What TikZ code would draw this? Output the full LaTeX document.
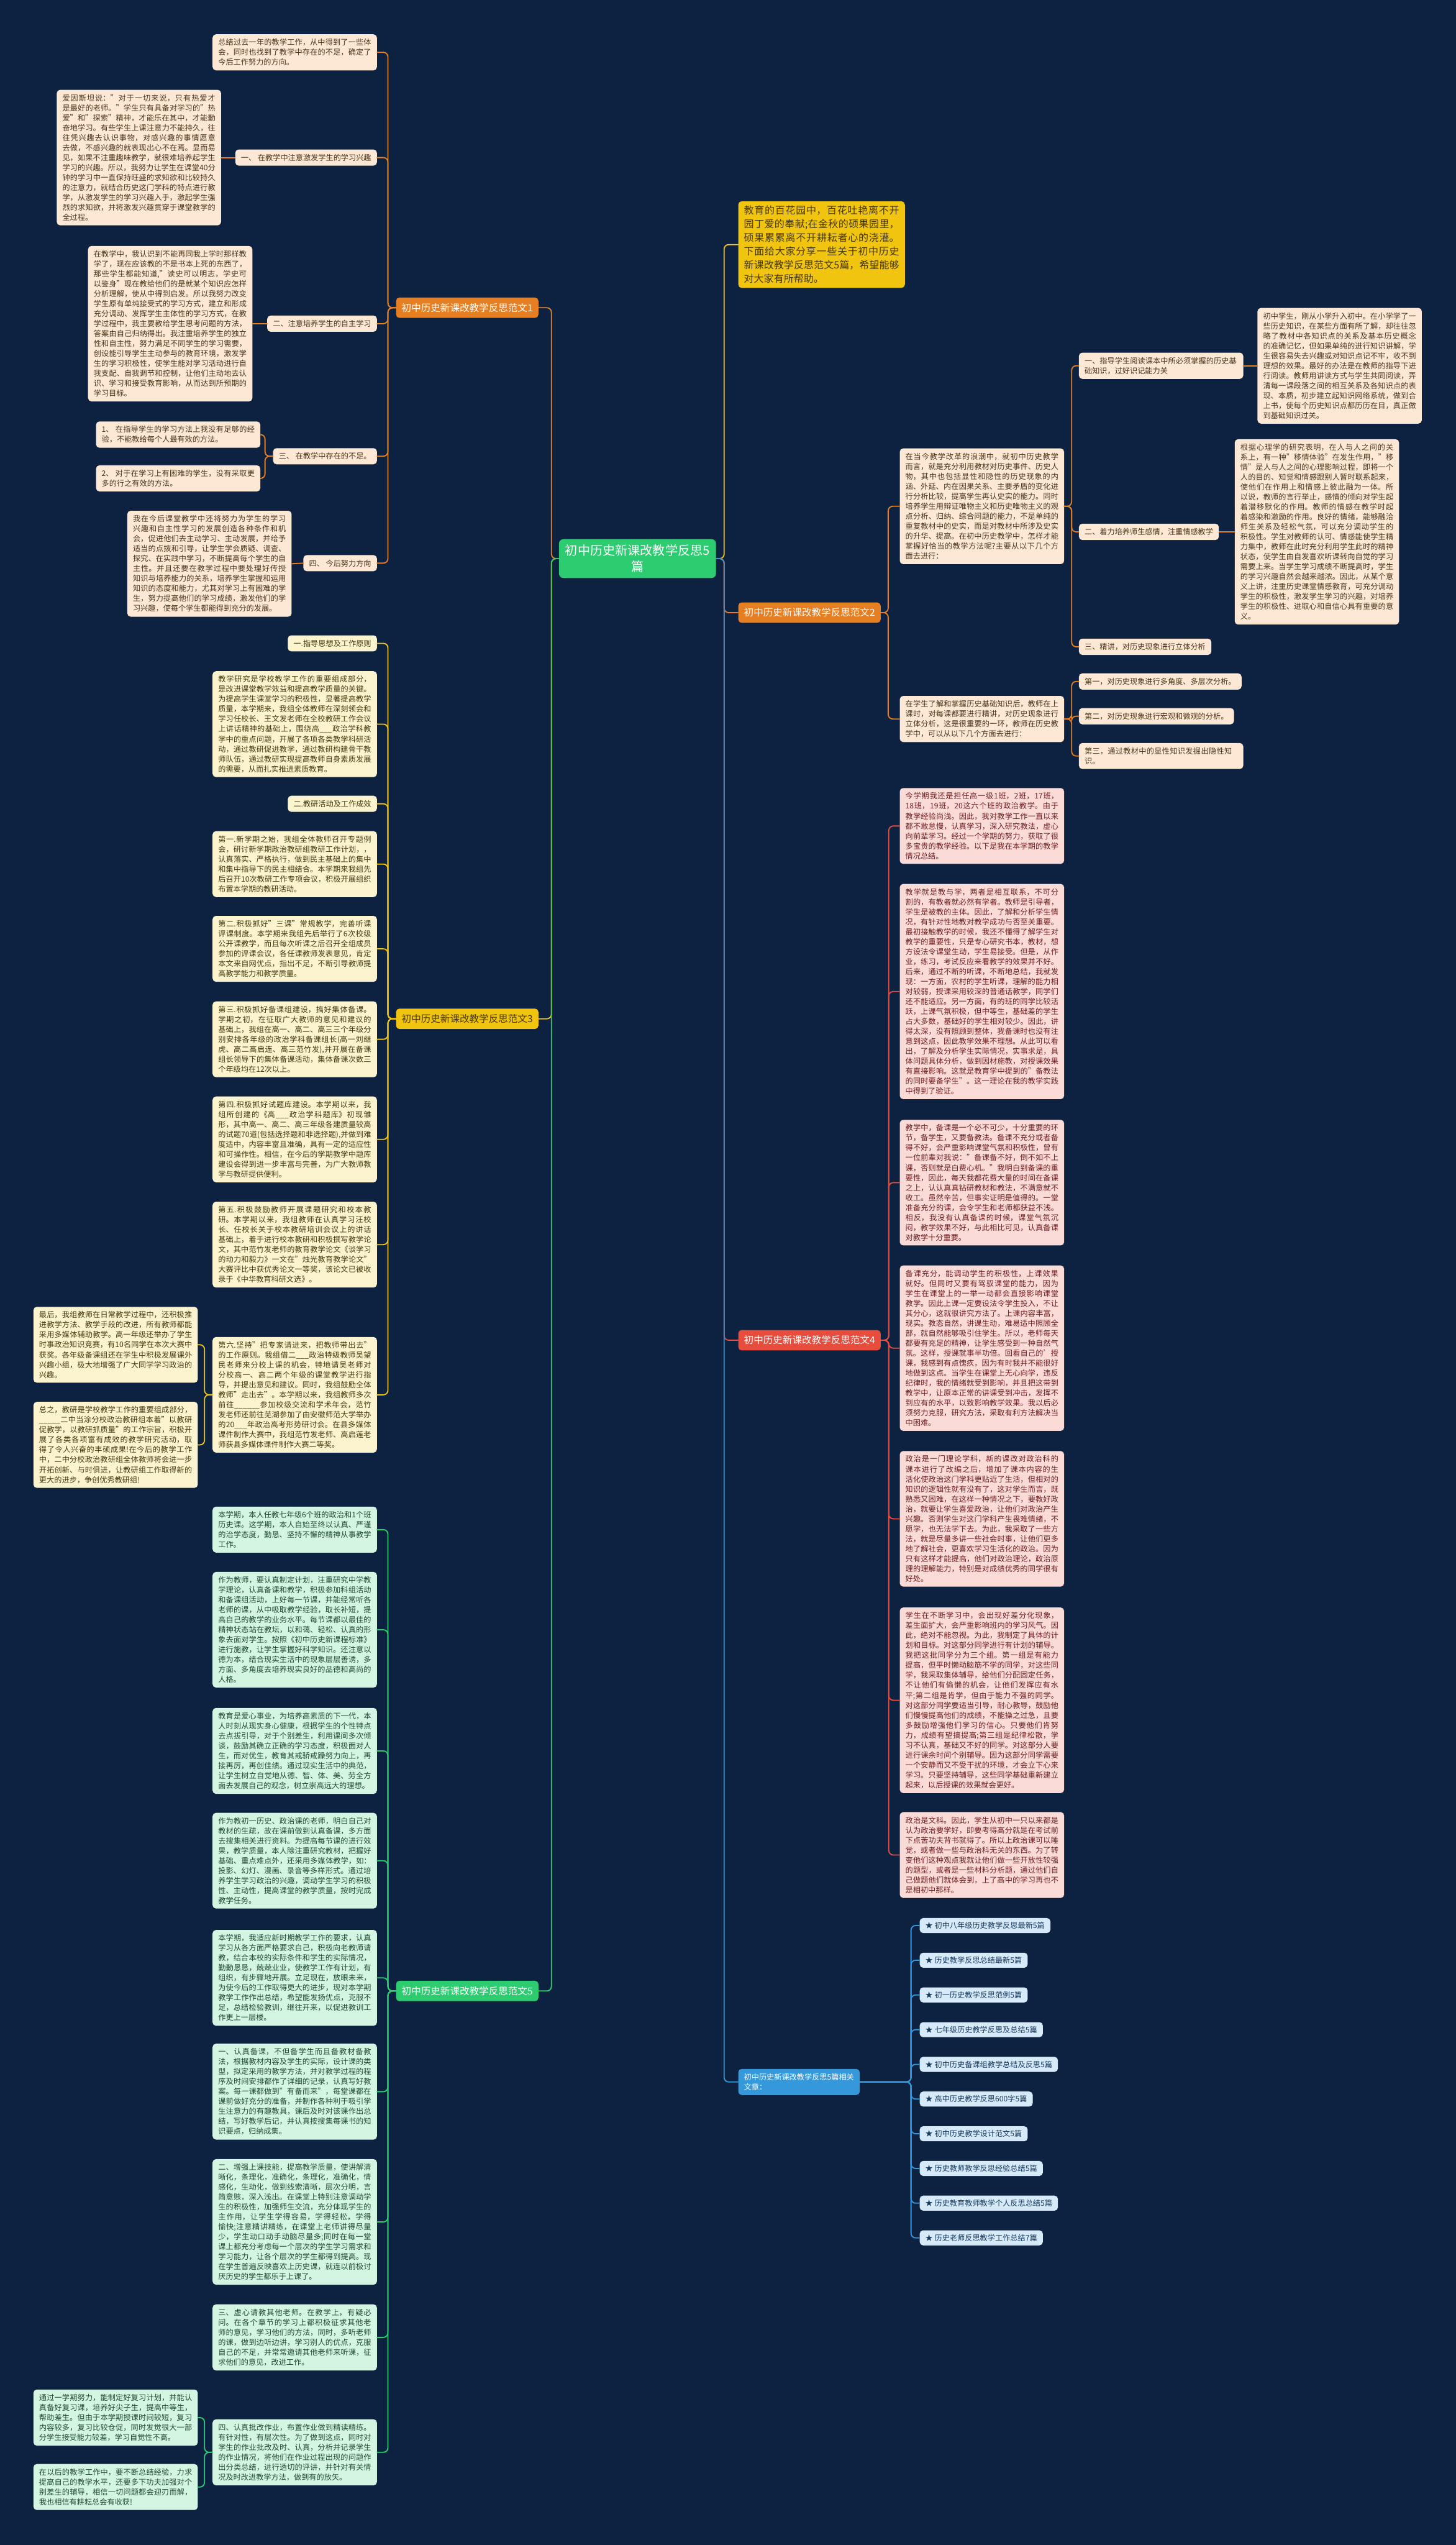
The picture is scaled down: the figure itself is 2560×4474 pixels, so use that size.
\documentclass[tikz,border=0pt]{standalone}
\usepackage{fontspec}
\setmainfont{Noto Sans CJK SC}
\XeTeXlinebreaklocale "zh"
\XeTeXlinebreakskip=0pt plus 1pt
\definecolor{bgnavy}{HTML}{0C2240}
\definecolor{orfill}{HTML}{E67E22}
\definecolor{orleafc}{HTML}{FCE8D5}
\definecolor{ortext}{HTML}{4D3319}
\definecolor{yefill}{HTML}{F1C40F}
\definecolor{yeleafc}{HTML}{FCF3CF}
\definecolor{yetext}{HTML}{45390C}
\definecolor{grfill}{HTML}{2ECC71}
\definecolor{grleafc}{HTML}{D5F5E3}
\definecolor{grtext}{HTML}{1E4A30}
\definecolor{refill}{HTML}{E74C3C}
\definecolor{releafc}{HTML}{FADBD8}
\definecolor{retext}{HTML}{6B1F1F}
\definecolor{blfill}{HTML}{3498DB}
\definecolor{blleafc}{HTML}{D6EAF8}
\definecolor{bltext}{HTML}{173A5E}
\newcommand\leaffont{\fontsize{13.3}{17.5}\selectfont}
\newcommand\mainfont{\fontsize{17}{21}\selectfont}
\newcommand\rootfont{\fontsize{22}{28}\selectfont}
\begin{document}
\begin{tikzpicture}[x={(1pt,0)}, y={(0,-1pt)}, line cap=round, line join=round,
  basebox/.style={rounded corners=6pt, inner xsep=10pt, inner ysep=8pt, font=\leaffont},
  leafbox/.style={basebox, text width=269pt, align=justify},
  tagbox/.style={basebox},
  mainbox/.style={rounded corners=6pt, inner xsep=10pt, inner ysep=10pt, font=\mainfont},
  rootbox/.style={rounded corners=8pt, inner xsep=11pt, inner ysep=10pt, font=\rootfont, align=center, fill=grfill, text=white},
  orleaf/.style={fill=orleafc, text=ortext},
  yeleaf/.style={fill=yeleafc, text=yetext},
  grleaf/.style={fill=grleafc, text=grtext},
  releaf/.style={fill=releafc, text=retext},
  blleaf/.style={fill=blleafc, text=bltext},
  wire/.style={line width=2pt, rounded corners=8pt},
  orwire/.style={wire, draw=orfill},
  yewire/.style={wire, draw=yefill},
  grwire/.style={wire, draw=grfill},
  rewire/.style={wire, draw=refill},
  blwire/.style={wire, draw=blfill}]

\fill[bgnavy] (0,0) rectangle (2560,4474);
\useasboundingbox (0,0) rectangle (2560,4474);

% centre
\node[rootbox] (root) at (1121,982) {初中历史新课改教学反思5\\篇};

% ---------------- 范文1
\node[mainbox, fill=orfill, text=white, anchor=east] (b1) at (947,541) {初中历史新课改教学反思范文1};
\node[leafbox, orleaf, anchor=east] (l0) at (663,92) {总结过去一年的教学工作，从中得到了一些体会，同时也找到了教学中存在的不足，确定了今后工作努力的方向。};
\node[tagbox, orleaf, anchor=east] (t1a) at (663,277) {一、 在教学中注意激发学生的学习兴趣};
\node[tagbox, orleaf, anchor=east] (t1b) at (663,569) {二、注意培养学生的自主学习};
\node[tagbox, orleaf, anchor=east] (t1c) at (663,802) {三、 在教学中存在的不足。};
\node[tagbox, orleaf, anchor=east] (t1d) at (663,990) {四、 今后努力方向};
\node[leafbox, orleaf, anchor=east] (l1a) at (389,277) {爱因斯坦说："对于一切来说，只有热爱才是最好的老师。"学生只有具备对学习的"热爱"和"探索"精神，才能乐在其中，才能勤奋地学习。有些学生上课注意力不能持久，往往凭兴趣去认识事物，对感兴趣的事情愿意去做，不感兴趣的就表现出心不在焉。显而易见，如果不注重趣味教学，就很难培养起学生学习的兴趣。所以，我努力让学生在课堂40分钟的学习中一直保持旺盛的求知欲和比较持久的注意力，就结合历史这门学科的特点进行教学，从激发学生的学习兴趣入手，激起学生强烈的求知欲，并将激发兴趣贯穿于课堂教学的全过程。};
\node[leafbox, orleaf, anchor=east] (l1b) at (444,569) {在教学中，我认识到不能再同我上学时那样教学了，现在应该教的不是书本上死的东西了，那些学生都能知道,"读史可以明志，学史可以鉴身"现在教给他们的是就某个知识应怎样分析理解，使从中得到启发。所以我努力改变学生原有单纯接受式的学习方式，建立和形成充分调动、发挥学生主体性的学习方式，在教学过程中，我主要教给学生思考问题的方法，答案由自己归纳得出。我注重培养学生的独立性和自主性，努力满足不同学生的学习需要，创设能引导学生主动参与的教育环境，激发学生的学习积极性，使学生能对学习活动进行自我支配、自我调节和控制，让他们主动地去认识、学习和接受教育影响，从而达到所预期的学习目标。};
\node[leafbox, orleaf, anchor=east] (l1c1) at (458,764) {1、 在指导学生的学习方法上我没有足够的经验，不能教给每个人最有效的方法。};
\node[leafbox, orleaf, anchor=east] (l1c2) at (458,841) {2、 对于在学习上有困难的学生，没有采取更多的行之有效的方法。};
\node[leafbox, orleaf, anchor=east] (l1d) at (513,991) {我在今后课堂教学中还将努力为学生的学习兴趣和自主性学习的发展创造各种条件和机会，促进他们去主动学习、主动发展，并给予适当的点拨和引导，让学生学会质疑、调查、探究、在实践中学习，不断提高每个学生的自主性。并且还要在教学过程中要处理好传授知识与培养能力的关系，培养学生掌握和运用知识的态度和能力，尤其对学习上有困难的学生，努力提高他们的学习成绩，激发他们的学习兴趣，使每个学生都能得到充分的发展。};

% ---------------- 范文3
\node[mainbox, fill=yefill, text=yetext, anchor=east] (b3) at (947,1791) {初中历史新课改教学反思范文3};
\node[tagbox, yeleaf, anchor=east] (t3a) at (663,1131) {一.指导思想及工作原则};
\node[leafbox, yeleaf, anchor=east] (l3a) at (663,1273) {教学研究是学校教学工作的重要组成部分，是改进课堂教学效益和提高教学质量的关键。为提高学生课堂学习的积极性，显著提高教学质量，本学期来，我组全体教师在深刻领会和学习任校长、王文发老师在全校教研工作会议上讲话精神的基础上，围绕高\_\_\_政治学科教学中的重点问题，开展了各项各类教学科研活动，通过教研促进教学，通过教研构建骨干教师队伍，通过教研实现提高教师自身素质发展的需要，从而扎实推进素质教育。};
\node[tagbox, yeleaf, anchor=east] (t3b) at (663,1413) {二.教研活动及工作成效};
\node[leafbox, yeleaf, anchor=east] (l3c) at (663,1519) {第一.新学期之始，我组全体教师召开专题例会，研讨新学期政治教研组教研工作计划，，认真落实、严格执行，做到民主基础上的集中和集中指导下的民主相结合。本学期来我组先后召开10次教研工作专项会议，积极开展组织布置本学期的教研活动。};
\node[leafbox, yeleaf, anchor=east] (l3d) at (663,1668) {第二.积极抓好"三课"常规教学，完善听课评课制度。本学期来我组先后举行了6次校级公开课教学，而且每次听课之后召开全组成员参加的评课会议，各任课教师发表意见，肯定本文来自网优点，指出不足，不断引导教师提高教学能力和教学质量。};
\node[leafbox, yeleaf, anchor=east] (l3e) at (663,1827) {第三.积极抓好备课组建设，搞好集体备课。学期之初，在征取广大教师的意见和建议的基础上，我组在高一、高二、高三三个年级分别安排各年级的政治学科备课组长(高一刘继虎、高二高启连、高三范竹发),并开展在备课组长领导下的集体备课活动，集体备课次数三个年级均在12次以上。};
\node[leafbox, yeleaf, anchor=east] (l3f) at (663,2003) {第四.积极抓好试题库建设。本学期以来，我组所创建的《高\_\_\_政治学科题库》初现雏形，其中高一、高二、高三年级各建质量较高的试题70道(包括选择题和非选择题),并做到难度适中，内容丰富且准确，具有一定的适应性和可操作性。相信，在今后的学期教学中题库建设会得到进一步丰富与完善，为广大教师教学与教研提供便利。};
\node[leafbox, yeleaf, anchor=east] (l3g) at (663,2188) {第五.积极鼓励教师开展课题研究和校本教研。本学期以来，我组教师在认真学习汪校长、任校长关于校本教研培训会议上的讲话基础上，着手进行校本教研和积极撰写教学论文，其中范竹发老师的教育教学论文《谈学习的动力和毅力》一文在"烛光教育教学论文"大赛评比中获优秀论文一等奖，该论文已被收录于《中华教育科研文选》。};
\node[leafbox, yeleaf, anchor=east] (l3h) at (663,2452) {第六.坚持"把专家请进来，把教师带出去"的工作原则。我组借二\_\_\_政治特级教师吴望民老师来分校上课的机会，特地请吴老师对分校高一、高二两个年级的课堂教学进行指导，并提出意见和建议。同时，我组鼓励全体教师"走出去"。本学期以来，我组教师多次前往\_\_\_\_\_\_参加校级交流和学术年会，范竹发老师还前往芜湖参加了由安徽师范大学举办的20\_\_\_年政治高考形势研讨会。在县多媒体课件制作大赛中，我组范竹发老师、高启莲老师获县多媒体课件制作大赛二等奖。};
\node[leafbox, yeleaf, anchor=east] (l3i) at (348,2364) {最后，我组教师在日常教学过程中，还积极推进教学方法、教学手段的改进，所有教师都能采用多媒体辅助教学。高一年级还举办了学生时事政治知识竞赛，有10名同学在本次大赛中获奖。各年级备课组还在学生中积极发展课外兴趣小组，极大地增强了广大同学学习政治的兴趣。};
\node[leafbox, yeleaf, anchor=east] (l3j) at (348,2540) {总之，教研是学校教学工作的重要组成部分，\_\_\_\_\_二中当涂分校政治教研组本着"以教研促教学，以教研抓质量"的工作宗旨，积极开展了各类各项富有成效的教学研究活动，取得了令人兴奋的丰硕成果!在今后的教学工作中，二中分校政治教研组全体教师将会进一步开拓创新、与时俱进，让教研组工作取得新的更大的进步，争创优秀教研组!};

% ---------------- 范文5
\node[mainbox, fill=grfill, text=white, anchor=east] (b5) at (947,3500) {初中历史新课改教学反思范文5};
\node[leafbox, grleaf, anchor=east] (l5a) at (663,2689) {本学期，本人任教七年级6个班的政治和1个班历史课。这学期，本人自始至终以认真、严谨的治学态度，勤恳、坚持不懈的精神从事教学工作。};
\node[leafbox, grleaf, anchor=east] (l5b) at (663,2865) {作为教师，要认真制定计划，注重研究中学教学理论，认真备课和教学，积极参加科组活动和备课组活动，上好每一节课，并能经常听各老师的课，从中吸取教学经验，取长补短，提高自己的教学的业务水平。每节课都以最佳的精神状态站在教坛，以和蔼、轻松、认真的形象去面对学生。按照《初中历史新课程标准》进行施教，让学生掌握好科学知识。还注意以德为本，结合现实生活中的现象层层善诱，多方面、多角度去培养现实良好的品德和高尚的人格。};
\node[leafbox, grleaf, anchor=east] (l5c) at (663,3078) {教育是爱心事业，为培养高素质的下一代，本人时刻从现实身心健康，根据学生的个性特点去点拔引导，对于个别差生，利用课间多次倾谈，鼓励其确立正确的学习态度，积极面对人生，而对优生，教育其戒骄戒躁努力向上，再接再厉，再创佳绩。通过现实生活中的典范，让学生树立自觉地从德、智、体、美、劳全方面去发展自己的观念，树立崇高远大的理想。};
\node[leafbox, grleaf, anchor=east] (l5d) at (663,3271) {作为教初一历史、政治课的老师，明白自己对教材的生疏，故在课前做到认真备课，多方面去搜集相关进行资料。为提高每节课的进行效果，教学质量，本人除注重研究教材，把握好基础、重点难点外，还采用多媒体教学，如：投影、幻灯、漫画、录音等多样形式。通过培养学生学习政治的兴趣，调动学生学习的积极性、主动性，提高课堂的教学质量，按时完成教学任务。};
\node[leafbox, grleaf, anchor=east] (l5e) at (663,3477) {本学期，我适应新时期教学工作的要求，认真学习从各方面严格要求自己，积极向老教师请教，结合本校的实际条件和学生的实际情况，勤勤恳恳，兢兢业业，使教学工作有计划，有组织，有步骤地开展。立足现在，放眼未来，为使今后的工作取得更大的进步，现对本学期教学工作作出总结，希望能发扬优点，克服不足，总结检验教训，继往开来，以促进教训工作更上一层楼。};
\node[leafbox, grleaf, anchor=east] (l5f) at (663,3677) {一、认真备课，不但备学生而且备教材备教法，根据教材内容及学生的实际，设计课的类型，拟定采用的教学方法，并对教学过程的程序及时间安排都作了详细的记录，认真写好教案。每一课都做到"有备而来"，每堂课都在课前做好充分的准备，并制作各种利于吸引学生注意力的有趣教具，课后及时对该课作出总结，写好教学后记，并认真按搜集每课书的知识要点，归纳成集。};
\node[leafbox, grleaf, anchor=east] (l5g) at (663,3906) {二、增强上课技能，提高教学质量，使讲解清晰化，条理化，准确化，条理化，准确化，情感化，生动化，做到线索清晰，层次分明，言简意赅，深入浅出。在课堂上特别注意调动学生的积极性，加强师生交流，充分体现学生的主作用，让学生学得容易，学得轻松，学得愉快;注意精讲精练，在课堂上老师讲得尽量少，学生动口动手动脑尽量多;同时在每一堂课上都充分考虑每一个层次的学生学习需求和学习能力，让各个层次的学生都得到提高。现在学生普遍反映喜欢上历史课，就连以前极讨厌历史的学生都乐于上课了。};
\node[leafbox, grleaf, anchor=east] (l5h) at (663,4109) {三、虚心请教其他老师。在教学上，有疑必问。在各个章节的学习上都积极征求其他老师的意见，学习他们的方法，同时，多听老师的课，做到边听边讲，学习别人的优点，克服自己的不足，并常常邀请其他老师来听课，征求他们的意见，改进工作。};
\node[leafbox, grleaf, anchor=east] (l5i) at (663,4311) {四、认真批改作业，布置作业做到精读精练。有针对性，有层次性。为了做到这点，同时对学生的作业批改及时、认真，分析并记录学生的作业情况，将他们在作业过程出现的问题作出分类总结，进行透切的评讲，并针对有关情况及时改进教学方法，做到有的放矢。};
\node[leafbox, grleaf, anchor=east] (l5j) at (348,4250) {通过一学期努力，能制定好复习计划，并能认真备好复习课，培养好尖子生，提高中等生，帮助差生。但由于本学期授课时间较短，复习内容较多，复习比较仓促，同时发觉很大一部分学生接受能力较差，学习自觉性不高。};
\node[leafbox, grleaf, anchor=east] (l5k) at (348,4372) {在以后的教学工作中，要不断总结经验，力求提高自己的教学水平，还要多下功夫加强对个别差生的辅导，相信一切问题都会迎刃而解，我也相信有耕耘总会有收获!};

% ---------------- intro
\node[basebox, font=\fontsize{17.5}{24}\selectfont, text width=273pt, align=justify, fill=yefill, text=yetext, anchor=west] (intro) at (1298,430) {教育的百花园中，百花吐艳离不开园丁爱的奉献;在金秋的硕果园里，硕果累累离不开耕耘者心的浇灌。下面给大家分享一些关于初中历史新课改教学反思范文5篇，希望能够对大家有所帮助。};

% ---------------- 范文2
\node[mainbox, fill=orfill, text=white, anchor=west] (b2) at (1298,1077) {初中历史新课改教学反思范文2};
\node[leafbox, orleaf, anchor=west] (l2a) at (1582,890) {在当今教学改革的浪潮中，就初中历史教学而言，就是充分利用教材对历史事件、历史人物，其中也包括显性和隐性的历史现象的内涵、外延、内在因果关系、主要矛盾的变化进行分析比较，提高学生再认史实的能力。同时培养学生用辩证唯物主义和历史唯物主义的观点分析、归纳、综合问题的能力，不是单纯的重复教材中的史实，而是对教材中所涉及史实的升华、提高。在初中历史教学中，怎样才能掌握好恰当的教学方法呢?主要从以下几个方面去进行：};
\node[leafbox, orleaf, anchor=west] (l2b) at (1582,1264) {在学生了解和掌握历史基础知识后，教师在上课时，对每课都要进行精讲，对历史现象进行立体分析，这是很重要的一环，教师在历史教学中，可以从以下几个方面去进行：};
\node[leafbox, orleaf, align=left, anchor=west] (t2a) at (1897,643) {一、指导学生阅读课本中所必须掌握的历史基础知识，过好识记能力关};
\node[tagbox, orleaf, anchor=west] (t2b) at (1897,935) {二、着力培养师生感情，注重情感教学};
\node[tagbox, orleaf, anchor=west] (t2c) at (1897,1137) {三、精讲，对历史现象进行立体分析};
\node[leafbox, orleaf, anchor=west] (l2a1) at (2211,643) {初中学生，刚从小学升入初中。在小学学了一些历史知识，在某些方面有所了解，却往往忽略了教材中各知识点的关系及基本历史概念的准确记忆，但如果单纯的进行知识讲解，学生很容易失去兴趣或对知识点记不牢，收不到理想的效果。最好的办法是在教师的指导下进行阅读。教师用讲读方式与学生共同阅读，弄清每一课段落之间的相互关系及各知识点的表现、本质，初步建立起知识网络系统，做到合上书，使每个历史知识点都历历在目，真正做到基础知识过关。};
\node[leafbox, orleaf, anchor=west] (l2b1) at (2171,935) {根据心理学的研究表明，在人与人之间的关系上，有一种"移情体验"在发生作用，"移情"是人与人之间的心理影响过程，即将一个人的目的、知觉和情感跟别人暂时联系起来，使他们在作用上和情感上彼此融为一体。所以说，教师的言行举止，感情的倾向对学生起着潜移默化的作用。教师的情感在教学时起着感染和激励的作用。良好的情绪，能够融洽师生关系及轻松气氛，可以充分调动学生的积极性。学生对教师的认可、情感能使学生精力集中，教师在此时充分利用学生此时的精神状态，使学生由自发喜欢听课转向自觉的学习需要上来。当学生学习成绩不断提高时，学生的学习兴趣自然会越来越浓。因此，从某个意义上讲，注重历史课堂情感教育，可充分调动学生的积极性，激发学生学习的兴趣，对培养学生的积极性、进取心和自信心具有重要的意义。};
\node[tagbox, orleaf, anchor=west] (t2d) at (1897,1198) {第一，对历史现象进行多角度、多层次分析。};
\node[tagbox, orleaf, anchor=west] (t2e) at (1897,1259) {第二，对历史现象进行宏观和微观的分析。};
\node[leafbox, orleaf, align=left, anchor=west] (t2f) at (1897,1329) {第三，通过教材中的显性知识发掘出隐性知识。};

% ---------------- 范文4
\node[mainbox, fill=refill, text=white, anchor=west] (b4) at (1298,2356) {初中历史新课改教学反思范文4};
\node[leafbox, releaf, anchor=west] (l4a) at (1582,1452) {今学期我还是担任高一级1班，2班，17班，18班，19班，20这六个班的政治教学。由于教学经验尚浅。因此，我对教学工作一直以来都不敢怠慢，认真学习，深入研究教法，虚心向前辈学习。经过一个学期的努力，获取了很多宝贵的教学经验。以下是我在本学期的教学情况总结。};
\node[leafbox, releaf, anchor=west] (l4b) at (1582,1743) {教学就是教与学，两者是相互联系，不可分割的，有教者就必然有学者。教师是引导者，学生是被教的主体。因此，了解和分析学生情况，有针对性地教对教学成功与否至关重要。最初接触教学的时候，我还不懂得了解学生对教学的重要性，只是专心研究书本，教材，想方设法令课堂生动，学生易接受。但是，从作业，练习，考试反应来看教学的效果并不好。后来，通过不断的听课，不断地总结，我就发现：一方面，农村的学生听课，理解的能力相对较弱，授课采用较深的普通话教学，同学们还不能适应。另一方面，有的班的同学比较活跃，上课气氛积极，但中等生，基础差的学生占大多数，基础好的学生相对较少。因此，讲得太深，没有照顾到整体，我备课时也没有注意到这点，因此教学效果不理想。从此可以看出，了解及分析学生实际情况，实事求是，具体问题具体分析，做到因材施教，对授课效果有直接影响。这就是教育学中提到的"备教法的同时要备学生"。这一理论在我的教学实践中得到了验证。};
\node[leafbox, releaf, anchor=west] (l4c) at (1582,2079) {教学中，备课是一个必不可少，十分重要的环节，备学生，又要备教法。备课不充分或者备得不好，会严重影响课堂气氛和积极性，曾有一位前辈对我说："备课备不好，倒不如不上课，否则就是白费心机。"我明白到备课的重要性，因此，每天我都花费大量的时间在备课之上，认认真真钻研教材和教法，不满意就不收工。虽然辛苦，但事实证明是值得的。一堂准备充分的课，会令学生和老师都获益不浅。相反，我没有认真备课的时候，课堂气氛沉闷，教学效果不好，与此相比可见，认真备课对教学十分重要。};
\node[leafbox, releaf, anchor=west] (l4d) at (1582,2370) {备课充分，能调动学生的积极性，上课效果就好。但同时又要有驾驭课堂的能力，因为学生在课堂上的一举一动都会直接影响课堂教学。因此上课一定要设法令学生投入，不让其分心，这就很讲究方法了。上课内容丰富，现实。教态自然，讲课生动，难易适中照顾全部，就自然能够吸引住学生。所以，老师每天都要有充足的精神，让学生感受到一种自然气氛。这样，授课就事半功倍。回看自己的'授课，我感到有点愧疚，因为有时我并不能很好地做到这点。当学生在课堂上无心向学，违反纪律时，我的情绪就受到影响，并且把这带到教学中，让原本正常的讲课受到冲击，发挥不到应有的水平，以致影响教学效果。我以后必须努力克服，研究方法，采取有利方法解决当中困难。};
\node[leafbox, releaf, anchor=west] (l4e) at (1582,2670) {政治是一门理论学科，新的课改对政治科的课本进行了改编之后，增加了课本内容的生活化使政治这门学科更贴近了生活，但相对的知识的逻辑性就有没有了，这对学生而言，既熟悉又困难，在这样一种情况之下，要教好政治，就要让学生喜爱政治，让他们对政治产生兴趣。否则学生对这门学科产生畏难情绪，不愿学，也无法学下去。为此，我采取了一些方法，就是尽量多讲一些社会时事，让他们更多地了解社会，更喜欢学习生活化的政治。因为只有这样才能提高，他们对政治理论，政治原理的理解能力，特别是对成绩优秀的同学很有好处。};
\node[leafbox, releaf, anchor=west] (l4f) at (1582,2989) {学生在不断学习中，会出现好差分化现象，差生面扩大，会严重影响班内的学习风气。因此，绝对不能忽视。为此，我制定了具体的计划和目标。对这部分同学进行有计划的辅导。我把这批同学分为三个组。第一组是有能力提高，但平时懒动脑筋不学的同学，对这些同学，我采取集体辅导，给他们分配固定任务，不让他们有偷懒的机会，让他们发挥应有水平;第二组是肯学，但由于能力不强的同学。对这部分同学要适当引导，耐心教导，鼓励他们慢慢提高他们的成绩，不能操之过急，且要多鼓励增强他们学习的信心。只要他们肯努力，成绩有望搞提高;第三组是纪律松散，学习不认真，基础又不好的同学。对这部分人要进行课余时间个别辅导。因为这部分同学需要一个安静而又不受干扰的环境，才会立下心来学习。只要坚持辅导，这些同学基础重新建立起来，以后授课的效果就会更好。};
\node[leafbox, releaf, anchor=west] (l4g) at (1582,3261) {政治是文科。因此，学生从初中一只以来都是认为政治要学好，即要考得高分就是在考试前下点苦功夫背书就得了。所以上政治课可以睡觉，或者做一些与政治科无关的东西。为了转变他们这种观点我就让他们做一些开放性较强的题型，或者是一些材料分析题，通过他们自己做题他们就体会到，上了高中的学习再也不是相初中那样。};

% ---------------- related
\node[basebox, fill=blfill, text=white, align=left, anchor=west] (b6) at (1298,3660) {初中历史新课改教学反思5篇相关\\文章：};
\foreach \i/\t in {1/初中八年级历史教学反思最新5篇, 2/历史教学反思总结最新5篇, 3/初一历史教学反思范例5篇, 4/七年级历史教学反思及总结5篇, 5/初中历史备课组教学总结及反思5篇, 6/高中历史教学反思600字5篇, 7/初中历史教学设计范文5篇, 8/历史教师教学反思经验总结5篇, 9/历史教育教师教学个人反思总结5篇, 10/历史老师反思教学工作总结7篇}
  \node[tagbox, blleaf, inner ysep=7pt, anchor=west] (r\i) at (1617,3385+61*\i-61) {★ \t};

% ---------------- connectors
\draw[orwire] (root.west) -- ++(-13,0) |- (b1.east);
\draw[yewire] (root.west) -- ++(-13,0) |- (b3.east);
\draw[grwire] (root.west) -- ++(-13,0) |- (b5.east);
\draw[yewire] (root.east) -- ++(14,0) |- (intro.west);
\draw[orwire] (root.east) -- ++(14,0) |- (b2.west);
\draw[rewire] (root.east) -- ++(14,0) |- (b4.west);
\draw[blwire] (root.east) -- ++(14,0) |- (b6.west);

\foreach \n in {l0,t1a,t1b,t1c,t1d}
  \draw[orwire] (b1.west) -- ++(-14,0) |- (\n.east);
\draw[orwire] (t1a.west) -- (l1a.east);
\draw[orwire] (t1b.west) -- (l1b.east);
\draw[orwire] (t1d.west) -- (l1d.east);
\foreach \n in {l1c1,l1c2}
  \draw[orwire] (t1c.west) -- ++(-14,0) |- (\n.east);

\foreach \n in {t3a,l3a,t3b,l3c,l3d,l3e,l3f,l3g,l3h}
  \draw[yewire] (b3.west) -- ++(-14,0) |- (\n.east);
\foreach \n in {l3i,l3j}
  \draw[yewire] (l3h.west) -- ++(-14,0) |- (\n.east);

\foreach \n in {l5a,l5b,l5c,l5d,l5e,l5f,l5g,l5h,l5i}
  \draw[grwire] (b5.west) -- ++(-14,0) |- (\n.east);
\foreach \n in {l5j,l5k}
  \draw[grwire] (l5i.west) -- ++(-14,0) |- (\n.east);

\foreach \n in {l2a,l2b}
  \draw[orwire] (b2.east) -- ++(13,0) |- (\n.west);
\foreach \n in {t2a,t2b,t2c}
  \draw[orwire] (l2a.east) -- ++(13,0) |- (\n.west);
\foreach \n in {t2d,t2e,t2f}
  \draw[orwire] (l2b.east) -- ++(13,0) |- (\n.west);
\draw[orwire] (t2a.east) -- (l2a1.west);
\draw[orwire] (t2b.east) -- (l2b1.west);

\foreach \n in {l4a,l4b,l4c,l4d,l4e,l4f,l4g}
  \draw[rewire] (b4.east) -- ++(14,0) |- (\n.west);

\foreach \i in {1,...,10}
  \draw[blwire] (b6.east) -- ++(90,0) |- (r\i.west);
\end{tikzpicture}
\end{document}
